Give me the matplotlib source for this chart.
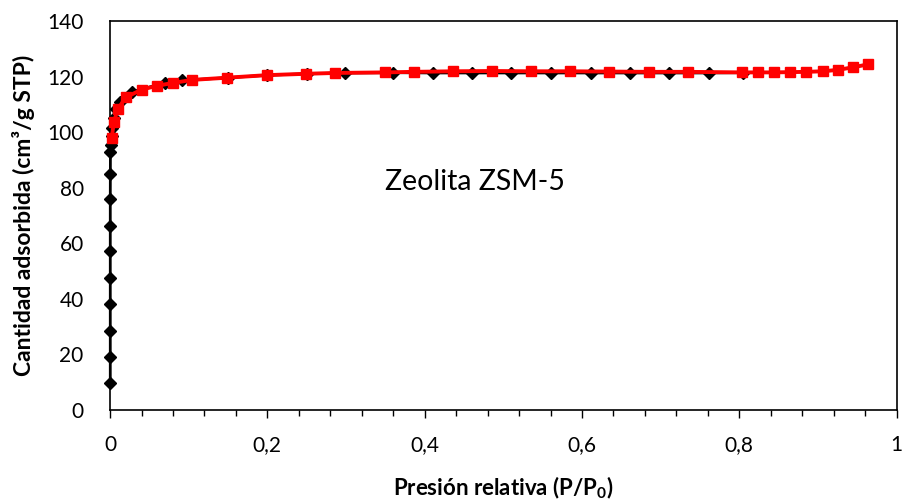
import matplotlib.pyplot as plt
from matplotlib.ticker import MultipleLocator, FuncFormatter

plt.rcParams['font.family'] = ['Lato', 'DejaVu Sans']

# Rama de adsorción (rombos negros)
p_ads = [0.0003, 0.0003, 0.0003, 0.0003, 0.0003, 0.0003, 0.0003, 0.0003, 0.0004, 0.0005,
         0.001, 0.002, 0.003, 0.005, 0.008, 0.013, 0.028, 0.07, 0.091,
         0.15, 0.2, 0.25, 0.299, 0.36, 0.411, 0.46, 0.51, 0.56, 0.611, 0.661,
         0.711, 0.761, 0.805]
v_ads = [9.6, 19.2, 28.6, 38.1, 47.6, 57.1, 66.4, 75.8, 85.1, 92.9,
         95.5, 98.5, 101.5, 105.0, 108.5, 111.0, 114.5, 117.8, 118.6,
         119.6, 120.5, 121.0, 121.3, 121.4, 121.3, 121.3, 121.3, 121.3, 121.3, 121.3,
         121.3, 121.3, 121.4]

# Rama de desorción (cuadrados rojos)
p_des = [0.002, 0.005, 0.01, 0.02, 0.04, 0.06, 0.08, 0.104, 0.149, 0.199,
         0.249, 0.286, 0.349, 0.386, 0.436, 0.486, 0.535, 0.585, 0.635, 0.685,
         0.735, 0.803, 0.824, 0.844, 0.865, 0.885, 0.906, 0.925, 0.944, 0.964]
v_des = [97.8, 103.8, 108.3, 112.5, 115.3, 116.7, 117.7, 118.8, 119.6, 120.5,
         121.0, 121.3, 121.5, 121.7, 121.9, 122.0, 121.9, 121.9, 121.8, 121.7,
         121.7, 121.5, 121.5, 121.5, 121.6, 121.7, 121.9, 122.4, 123.3, 124.4]

fig = plt.figure(figsize=(9.02, 5.0), dpi=100)
ax = fig.add_axes([0.122, 0.18, 0.872, 0.778])

ax.plot(p_ads, v_ads, color='black', linewidth=2, marker='D', markersize=6,
        markerfacecolor='black', markeredgecolor='black', clip_on=False, zorder=3)
ax.plot(p_des, v_des, color='#ff0000', linewidth=2.8, marker='s', markersize=7.5,
        markerfacecolor='#ff0000', markeredgecolor='#ff0000', clip_on=False, zorder=4)

ax.set_xlim(0, 1)
ax.set_ylim(0, 140)
ax.xaxis.set_major_locator(MultipleLocator(0.2))
ax.xaxis.set_minor_locator(MultipleLocator(0.04))
ax.yaxis.set_major_locator(MultipleLocator(20))

coma = FuncFormatter(lambda v, pos: ('%g' % round(v, 2)).replace('.', ','))
ax.xaxis.set_major_formatter(coma)

ax.tick_params(axis='x', which='major', direction='out', length=6, width=1,
               labelsize=15, pad=12)
ax.tick_params(axis='x', which='minor', direction='out', length=4, width=1)
ax.tick_params(axis='y', which='major', length=0, labelsize=15, pad=19)

for s in ax.spines.values():
    s.set_linewidth(1.2)
    s.set_color('black')

ax.set_xlabel('Presión relativa (P/P$_\\mathregular{0}$)', fontsize=16,
              fontweight='bold', labelpad=14)
ax.set_ylabel('Cantidad adsorbida (cm³/g STP)', fontsize=16.5, fontweight='bold',
              labelpad=9)

ax.text(0.35, 82, 'Zeolita ZSM-5', fontsize=20.5, ha='left', va='center')

fig.savefig('out.png', dpi=100)
